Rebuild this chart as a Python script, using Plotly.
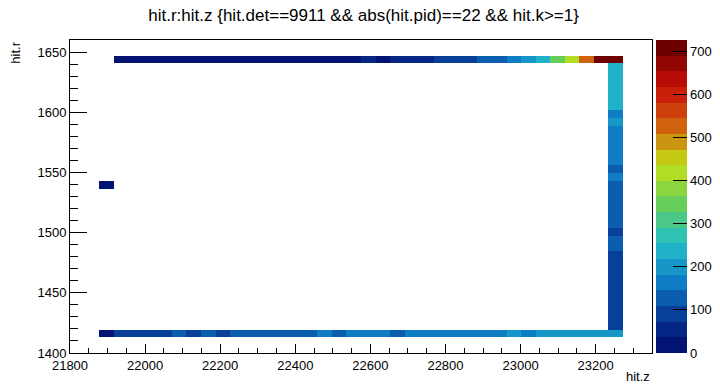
import plotly.graph_objects as go

# Histogram binning (ROOT TH2 auto binning, 40x40)
X_MIN, X_MAX, NX = 21800.0, 23350.0, 40
Y_MIN, Y_MAX, NY = 1400.0, 1660.0, 40

# Top row: y bin 37, x bins 3..37
top_row_y_bin = 37
top_row_x_bins = list(range(3, 38))
top_row_counts = [30, 28, 32, 26, 30, 33, 28, 31, 27, 30, 29, 32, 28, 31, 30, 27, 33,
                  52, 30, 60, 62, 58, 90, 92, 88, 125, 128, 160, 200, 235, 340, 415,
                  525, 715, 726]

# Bottom row: y bin 2, x bins 2..37
bottom_row_y_bin = 2
bottom_row_x_bins = list(range(2, 38))
bottom_row_counts = [30, 85, 82, 88, 84, 120, 90, 118, 92, 130, 128, 135, 132, 126, 130,
                     165, 130, 165, 168, 170, 135, 168, 165, 170, 166, 172, 168, 165,
                     198, 170, 200, 205, 198, 210, 202, 206]

# Right column: x bin 37, y bins 3..36
right_col_x_bin = 37
right_col_y_bins = list(range(3, 37))
right_col_counts = [92, 88, 95, 90, 86, 94, 91, 89, 93, 96, 122, 118, 95, 130, 135, 128,
                    132, 138, 126, 160, 130, 165, 168, 162, 170, 166, 182, 160, 232, 238,
                    228, 240, 235, 230]

# Isolated bin
single_bin = (2, 21, 25)

Z_MAX = 726
N_CONTOURS = 20
colorbar_ticks = [0, 100, 200, 300, 400, 500, 600, 700]

# ROOT kRainBow palette stops
pal_r = [0, 5, 15, 35, 102, 196, 208, 199, 110]
pal_g = [0, 48, 124, 192, 206, 226, 97, 16, 0]
pal_b = [99, 142, 198, 201, 90, 22, 13, 8, 2]


def pal(f):
    f = min(max(f, 0.0), 1.0)
    n = len(pal_r) - 1
    pos = f * n
    i = min(int(pos), n - 1)
    t = pos - i
    c = [round(a[i] + (a[i + 1] - a[i]) * t) for a in (pal_r, pal_g, pal_b)]
    return "rgb(%d,%d,%d)" % tuple(c)


colorscale = []
for k in range(N_CONTOURS):
    col = pal((k + 0.99) / N_CONTOURS)
    colorscale.append([k / N_CONTOURS, col])
    colorscale.append([(k + 1) / N_CONTOURS, col])

dx = (X_MAX - X_MIN) / NX
dy = (Y_MAX - Y_MIN) / NY
x_edges = [X_MIN + i * dx for i in range(NX + 1)]
y_edges = [Y_MIN + j * dy for j in range(NY + 1)]

z = [[None] * NX for _ in range(NY)]
for xb, v in zip(top_row_x_bins, top_row_counts):
    z[top_row_y_bin][xb] = v
for xb, v in zip(bottom_row_x_bins, bottom_row_counts):
    z[bottom_row_y_bin][xb] = v
for yb, v in zip(right_col_y_bins, right_col_counts):
    z[yb][right_col_x_bin] = v
z[single_bin[1]][single_bin[0]] = single_bin[2]

FONT = "Liberation Sans, Arial, Helvetica, sans-serif"

fig = go.Figure(go.Heatmap(
    x=x_edges, y=y_edges, z=z,
    colorscale=colorscale, zmin=0, zmax=Z_MAX,
    hoverongaps=False,
    colorbar=dict(
        x=(656 - 70) / 582, xanchor="left", xpad=0,
        y=0, yanchor="bottom", len=1, ypad=0,
        thickness=31, outlinewidth=0,
        tickvals=colorbar_ticks, ticks="inside", ticklen=14,
        tickcolor="black", tickwidth=1,
        tickfont=dict(family=FONT, size=13, color="black"),
    ),
))

fig.update_layout(
    width=720, height=386,
    margin=dict(l=70, r=68, t=40, b=33, autoexpand=False),
    paper_bgcolor="white", plot_bgcolor="white",
    font=dict(family=FONT, color="black"),
    title=dict(text="hit.r:hit.z {hit.det==9911 && abs(hit.pid)==22 && hit.k>=1}",
               x=0.505, xanchor="center", y=0.962, yanchor="middle",
               font=dict(family=FONT, size=17, color="black")),
    annotations=[
        dict(text="hit.r", xref="paper", yref="paper", x=-0.095, y=1.0,
             xanchor="center", yanchor="top", textangle=-90, showarrow=False,
             font=dict(family=FONT, size=13, color="black")),
        dict(text="hit.z", xref="paper", yref="paper", x=1.0, y=-0.045,
             xanchor="right", yanchor="top", showarrow=False,
             font=dict(family=FONT, size=13, color="black")),
    ],
)

fig.update_xaxes(
    range=[X_MIN, X_MAX], showgrid=False, zeroline=False,
    showline=True, linecolor="black", linewidth=1, mirror=True,
    tickmode="linear", tick0=21800, dtick=200, tickformat="d",
    ticks="inside", ticklen=9, tickcolor="black",
    minor=dict(ticks="inside", ticklen=5, dtick=50, tick0=21800, tickcolor="black"),
    tickfont=dict(family=FONT, size=13, color="black"),
)
fig.update_yaxes(
    range=[Y_MIN, Y_MAX], showgrid=False, zeroline=False,
    showline=True, linecolor="black", linewidth=1, mirror=True,
    tickmode="linear", tick0=1400, dtick=50, tickformat="d",
    ticks="inside", ticklen=17, tickcolor="black",
    minor=dict(ticks="inside", ticklen=8, dtick=10, tick0=1400, tickcolor="black"),
    tickfont=dict(family=FONT, size=13, color="black"),
)

fig.write_html("out.html")
